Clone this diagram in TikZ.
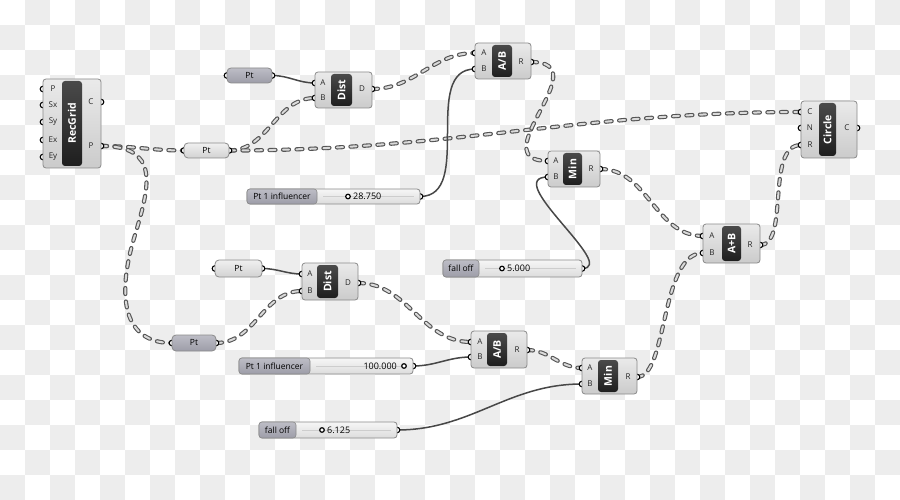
\documentclass[tikz,border=0pt]{standalone}
\usepackage{fontspec}
\setmainfont{Open Sans}
\definecolor{checker}{HTML}{EDEDED}
\definecolor{compTop}{HTML}{EAEAEA}
\definecolor{compBot}{HTML}{CBCBCB}
\definecolor{compEdge}{HTML}{8A8A8A}
\definecolor{barTop}{HTML}{4A4A4A}
\definecolor{barBot}{HTML}{1E1E1E}
\definecolor{parDarkTop}{HTML}{BDBDC6}
\definecolor{parDarkBot}{HTML}{9D9DA8}
\definecolor{parLightTop}{HTML}{F0F0F0}
\definecolor{parLightBot}{HTML}{D2D2D2}
\definecolor{slTop}{HTML}{F6F6F6}
\definecolor{slBot}{HTML}{DCDCDC}
\definecolor{wireDark}{HTML}{555555}
\definecolor{wireLight}{HTML}{DADADA}
\definecolor{itemWire}{HTML}{474747}
\definecolor{trackCol}{HTML}{CDCDCD}
\tikzset{
  comp/.style={draw=compEdge, line width=0.8pt, rounded corners=3pt, top color=compTop, bottom color=compBot, inner sep=0pt, outer sep=0pt},
  gbar/.style={rounded corners=3pt, top color=barTop, bottom color=barBot, inner sep=0pt, outer sep=0pt},
  bartext/.style={text=white, font=\fontsize{10.5}{10.5}\selectfont\bfseries, rotate=90, inner sep=0pt},
  plabel/.style={font=\fontsize{8}{8}\selectfont, text=black!85, inner sep=0pt},
  pardark/.style={draw=compEdge, line width=0.8pt, rounded corners=4pt, top color=parDarkTop, bottom color=parDarkBot, inner sep=0pt, outer sep=0pt, font=\fontsize{8.5}{9}\selectfont},
  parlight/.style={draw=compEdge, line width=0.8pt, rounded corners=4pt, top color=parLightTop, bottom color=parLightBot, inner sep=0pt, outer sep=0pt, font=\fontsize{8.5}{9}\selectfont},
  slbody/.style={draw=compEdge, line width=0.8pt, rounded corners=3pt, top color=slTop, bottom color=slBot, inner sep=0pt, outer sep=0pt},
  sllab/.style={draw=compEdge, line width=0.6pt, rounded corners=3pt, top color=parDarkTop, bottom color=parDarkBot, inner sep=0pt, outer sep=0pt, font=\fontsize{8.5}{9}\selectfont},
  slval/.style={font=\fontsize{9}{9}\selectfont, inner sep=0pt},
  knob/.style={draw=black, fill=white, line width=1.2pt},
  track/.style={draw=trackCol, line width=0.6pt},
  port/.style={draw=black, fill=white, line width=1.1pt},
  listwire/.style={draw=wireDark, line width=4.2pt, line cap=round, dash pattern=on 6pt off 7.5pt,
     postaction={draw=wireLight, line width=2pt, line cap=round, dash pattern=on 6pt off 7.5pt}},
  itemwire/.style={draw=itemWire, line width=1.5pt},
}
\newcommand\gcomp[8]{%
  \node[comp, minimum width={(#4-#2)*1pt}, minimum height={(#5-#3)*1pt}] (#1) at ({(#2+#4)/2},{(#3+#5)/2}) {};
  \node[gbar, minimum width={(#7-#6)*1pt}, minimum height={(#5-#3-4)*1pt}] (#1bar) at ({(#6+#7)/2},{(#3+#5)/2}) {};
  \node[bartext] (#1title) at (#1bar.center) {#8};
}
\newcommand\gparam[6]{%
  \node[#6, minimum width={(#4-#2)*1pt}, minimum height={(#5-#3)*1pt}] (#1) at ({(#2+#4)/2},{(#3+#5)/2}) {Pt};
}
\newcommand\gslider[7]{%
  \node[slbody, minimum width={(#5-#2)*1pt}, minimum height={(#6-#3)*1pt}] (#1) at ({(#2+#5)/2},{(#3+#6)/2}) {};
  \draw[track] ({#4+6},{(#3+#6)/2}) -- ({#5-6},{(#3+#6)/2});
  \node[sllab, minimum width={(#4-#2)*1pt}, minimum height={(#6-#3)*1pt}] (#1lab) at ({(#2+#4)/2},{(#3+#6)/2}) {#7};
}
\begin{document}
\begin{tikzpicture}[x=1pt,y=-1pt]
\useasboundingbox (0,0) rectangle (900,500);
% transparency checkerboard
\fill[white] (0,0) rectangle (900,500);
\foreach \i in {0,...,35}{\foreach \j in {0,...,19}{%
  \pgfmathtruncatemacro\k{mod(\i+\j,2)}%
  \ifnum\k=1 \fill[checker] ({\i*25},{\j*25}) rectangle ++(25,25);\fi}}

% ---------- port coordinates ----------
\coordinate (rgIP) at (43,89);  \coordinate (rgISx) at (43,105); \coordinate (rgISy) at (43,122);
\coordinate (rgIEx) at (43,140); \coordinate (rgIEy) at (43,157);
\coordinate (rgOC) at (101,102); \coordinate (rgOP) at (101,146);
\coordinate (ptAi) at (227,75.5); \coordinate (ptAo) at (272,75.5);
\coordinate (ptMi) at (184,150.5); \coordinate (ptMo) at (229,150.5);
\coordinate (ptBi) at (215,268.5); \coordinate (ptBo) at (262,268.5);
\coordinate (ptCi) at (172,343); \coordinate (ptCo) at (216,343);
\coordinate (dAA) at (315,83); \coordinate (dAB) at (315,98); \coordinate (dAD) at (372,89);
\coordinate (abAA) at (475,53); \coordinate (abAB) at (475,69); \coordinate (abAR) at (531,62);
\coordinate (cirC) at (801,112); \coordinate (cirN) at (801,128); \coordinate (cirR) at (801,145); \coordinate (cirO) at (857,128);
\coordinate (mnAA) at (548,161); \coordinate (mnAB) at (548,177); \coordinate (mnAR) at (600,169);
\coordinate (addA) at (703,236); \coordinate (addB) at (703,253); \coordinate (addR) at (760,245);
\coordinate (dBA) at (302,274); \coordinate (dBB) at (302,291); \coordinate (dBD) at (358,283);
\coordinate (abBA) at (471,342); \coordinate (abBB) at (471,357); \coordinate (abBR) at (527,350);
\coordinate (mnBA) at (582,368); \coordinate (mnBB) at (582,384); \coordinate (mnBR) at (637,377);
\coordinate (s1o) at (420,196.5); \coordinate (f1o) at (582,268.5);
\coordinate (s2o) at (413,366); \coordinate (f2o) at (397,430);

% ---------- wires ----------
\draw[listwire] (rgOP) to[out=0,in=180] (ptMi);
\draw[listwire] (rgOP) .. controls (160,146) and (150,185) .. (135,235) .. controls (115,300) and (125,343) .. (ptCi);
\draw[listwire] (ptMo) to[out=0,in=180] (dAB);
\draw[listwire] (ptMo) to[out=0,in=180] (cirC);
\draw[itemwire] (ptAo) to[out=0,in=180] (dAA);
\draw[listwire] (dAD) to[out=0,in=180] (abAA);
\draw[itemwire] (s1o) to[out=0,in=180] (abAB);
\draw[listwire] (abAR) .. controls (600,62) and (480,161) .. (mnAA);
\draw[itemwire] (f1o) .. controls (620,268) and (500,177) .. (mnAB);
\draw[listwire] (mnAR) to[out=0,in=180] (addA);
\draw[listwire] (mnBR) .. controls (668,377) and (660,253) .. (addB);
\draw[listwire] (addR) .. controls (790,245) and (765,145) .. (cirR);
\draw[itemwire] (ptBo) to[out=0,in=180] (dBA);
\draw[listwire] (ptCo) to[out=0,in=180] (dBB);
\draw[listwire] (dBD) to[out=0,in=180] (abBA);
\draw[itemwire] (s2o) to[out=0,in=180] (abBB);
\draw[listwire] (abBR) to[out=0,in=180] (mnBA);
\draw[itemwire] (f2o) to[out=0,in=180] (mnBB);

% ---------- ports ----------
\foreach \p in {rgIP,rgISx,rgISy,rgIEx,rgIEy,rgOC,rgOP,ptAi,ptAo,ptMi,ptMo,ptBi,ptBo,ptCi,ptCo,
  dAA,dAB,dAD,abAA,abAB,abAR,cirC,cirN,cirR,cirO,mnAA,mnAB,mnAR,addA,addB,addR,
  dBA,dBB,dBD,abBA,abBB,abBR,mnBA,mnBB,mnBR,s1o,f1o,s2o,f2o}
  {\draw[port] (\p) circle (2.8);}

% ---------- components ----------
\gcomp{rg}{43}{79}{101}{168}{62}{82}{RecGrid}
\node[plabel] at (53,89) {P};
\node[plabel] at (53,105) {Sx};
\node[plabel] at (53,122) {Sy};
\node[plabel] at (53,140) {Ex};
\node[plabel] at (53,157) {Ey};
\node[plabel] at (91,102) {C};
\node[plabel] at (91,146) {P};

\gcomp{dA}{315}{72}{372}{108}{331}{352}{Dist}
\node[plabel] at (323,83) {A};
\node[plabel] at (323,98) {B};
\node[plabel] at (362,89) {D};

\gcomp{abA}{475}{43}{531}{79}{492}{512}{A/B}
\node[plabel] at (484,53) {A};
\node[plabel] at (484,69) {B};
\node[plabel] at (521,62) {R};

\gcomp{cir}{801}{101}{857}{158}{819}{836}{Circle}
\node[plabel] at (810,112) {C};
\node[plabel] at (810,128) {N};
\node[plabel] at (810,145) {R};
\node[plabel] at (847,128) {C};

\gcomp{mnA}{548}{151}{600}{187}{563}{582}{Min}
\node[plabel] at (556,161) {A};
\node[plabel] at (556,177) {B};
\node[plabel] at (591,169) {R};

\gcomp{add}{703}{224}{760}{263}{722}{741}{A+B}
\node[plabel] at (712,236) {A};
\node[plabel] at (712,253) {B};
\node[plabel] at (750,245) {R};

\gcomp{dB}{302}{263}{358}{300}{317}{338}{Dist}
\node[plabel] at (310,274) {A};
\node[plabel] at (310,291) {B};
\node[plabel] at (348,283) {D};

\gcomp{abB}{471}{331}{527}{368}{487}{507}{A/B}
\node[plabel] at (480,342) {A};
\node[plabel] at (480,357) {B};
\node[plabel] at (517,350) {R};

\gcomp{mnB}{582}{358}{637}{394}{598}{618}{Min}
\node[plabel] at (590,368) {A};
\node[plabel] at (590,384) {B};
\node[plabel] at (628,377) {R};

% Pt parameters
\gparam{ptA}{227}{68}{272}{83}{pardark}
\gparam{ptM}{184}{143}{229}{158}{parlight}
\gparam{ptB}{215}{260}{262}{277}{parlight}
\gparam{ptC}{172}{335}{216}{351}{pardark}

% sliders
\gslider{s1}{247}{189}{317}{420}{204}{Pt 1 influencer}
\draw[knob] (348,196.5) circle (2.3);
\node[slval, anchor=west] (s1val) at (353,196.5) {28.750};

\gslider{f1}{443}{260}{479}{582}{277}{fall off}
\draw[knob] (502,268.5) circle (2.3);
\node[slval, anchor=west] (f1val) at (507,268.5) {5.000};

\gslider{s2}{239}{358}{310}{413}{374}{Pt 1 influencer}
\draw[knob] (404,366) circle (2.3);
\node[slval, anchor=east] (s2val) at (397,366) {100.000};

\gslider{f2}{259}{422}{296}{397}{438}{fall off}
\draw[knob] (322,430) circle (2.3);
\node[slval, anchor=west] (f2val) at (327,430) {6.125};
\end{tikzpicture}
\end{document}
